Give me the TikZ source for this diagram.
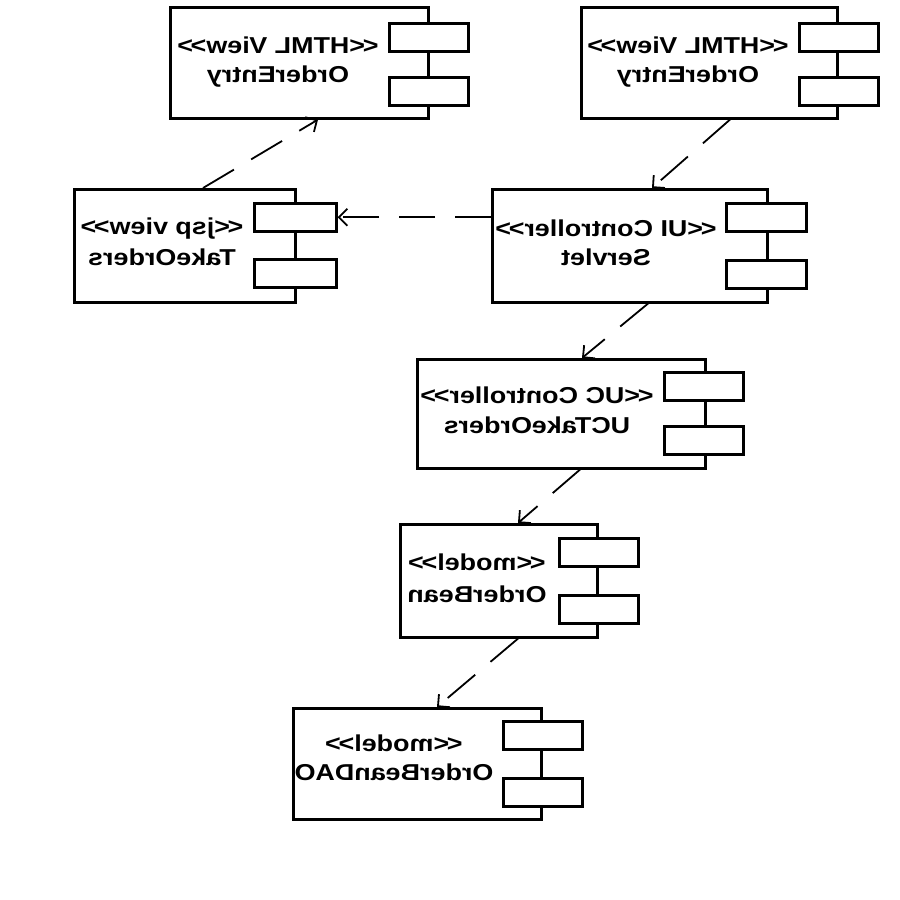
\documentclass[tikz,border=0pt]{standalone}
\usepackage{fontspec}
\setmainfont{Liberation Sans}
\usepackage{graphicx}
\usetikzlibrary{arrows.meta}

% Mirrored label line (reflected and slightly widened)
\newcommand{\mirtxt}[1]{\scalebox{-1.17}[1]{#1}}
% Stereotype brackets kept as two plain, closely set angle characters
\newcommand{\stopen}{<\kern-2pt<}
\newcommand{\stclose}{>\kern-2pt>}

\tikzset{
  compbox/.style={draw, line width=2.6pt, fill=white, inner sep=0pt, anchor=north west},
  portbox/.style={draw, line width=2.6pt, fill=white, inner sep=0pt, anchor=north west,
                  minimum width=79pt, minimum height=28pt},
  lbl/.style={inner sep=0pt, anchor=base, font=\fontsize{23}{27}\selectfont\bfseries},
  dep/.style={line width=1.8pt, dash pattern=on 36pt off 20pt,
              -{Straight Barb[length=8.5pt, width=17pt, line width=1.8pt]}},
}

\begin{document}
\begin{tikzpicture}[x=1pt, y=-1pt]
\useasboundingbox[fill=white] (0,0) rectangle (900,900);

% ---- component boxes (main body, then two ports) ----
% HTML View OrderEntry (left)
\node[compbox, minimum width=258pt, minimum height=111pt] (b1) at (169,6) {};
\node[portbox] (b1a) at (388,22) {};
\node[portbox] (b1b) at (388,76) {};
\node[lbl] (t1a) at (278,53) {\mirtxt{\stopen HTML View\stclose}};
\node[lbl] (t1b) at (278,82) {\mirtxt{OrderEntry}};

% HTML View OrderEntry (right)
\node[compbox, minimum width=256pt, minimum height=111pt] (b2) at (580,6) {};
\node[portbox] (b2a) at (798,22) {};
\node[portbox] (b2b) at (798,76) {};
\node[lbl] (t2a) at (688,53) {\mirtxt{\stopen HTML View\stclose}};
\node[lbl] (t2b) at (688,82) {\mirtxt{OrderEntry}};

% jsp view TakeOrders
\node[compbox, minimum width=221pt, minimum height=113pt] (b3) at (73,188) {};
\node[portbox, minimum width=82pt] (b3a) at (253,202) {};
\node[portbox, minimum width=82pt] (b3b) at (253,258) {};
\node[lbl] (t3a) at (162,234) {\mirtxt{\stopen jsp view\stclose}};
\node[lbl] (t3b) at (162,265) {\mirtxt{TakeOrders}};

% UI Controller Servlet
\node[compbox, minimum width=275pt, minimum height=113pt] (b4) at (491,188) {};
\node[portbox, minimum width=80pt] (b4a) at (725,202) {};
\node[portbox, minimum width=80pt] (b4b) at (725,259) {};
\node[lbl] (t4a) at (606,236) {\mirtxt{\stopen UI Controller\stclose}};
\node[lbl] (t4b) at (606,265) {\mirtxt{Servlet}};

% UC Controller UCTakeOrders
\node[compbox, minimum width=288pt, minimum height=109pt] (b5) at (416,358) {};
\node[portbox] (b5a) at (663,371) {};
\node[portbox] (b5b) at (663,425) {};
\node[lbl] (t5a) at (537,403) {\mirtxt{\stopen UC Controller\stclose}};
\node[lbl] (t5b) at (537,433) {\mirtxt{UCTakeOrders}};

% model OrderBean
\node[compbox, minimum width=197pt, minimum height=113pt] (b6) at (399,523) {};
\node[portbox] (b6a) at (558,537) {};
\node[portbox] (b6b) at (558,594) {};
\node[lbl] (t6a) at (477,570) {\mirtxt{\stopen model\stclose}};
\node[lbl] (t6b) at (477,602) {\mirtxt{OrderBean}};

% model OrderBeanDAO
\node[compbox, minimum width=248pt, minimum height=111pt] (b7) at (292,707) {};
\node[portbox] (b7a) at (502,720) {};
\node[portbox] (b7b) at (502,777) {};
\node[lbl] (t7a) at (394,751) {\mirtxt{\stopen model\stclose}};
\node[lbl] (t7b) at (394,780) {\mirtxt{OrderBeanDAO}};

% ---- dependencies ----
\draw[dep] ([xshift=130pt]b3.north west) -- ([xshift=149pt]b1.south west);
\draw[dep] ([xshift=150pt]b2.south west) -- ([xshift=161pt]b4.north west);
\draw[dep] (b4.west |- b3a.east) -- (b3a.east);
\draw[dep] ([xshift=157pt]b4.south west) -- ([xshift=166pt]b5.north west);
\draw[dep] ([xshift=164pt]b5.south west) -- ([xshift=119pt]b6.north west);
\draw[dep] ([xshift=119pt]b6.south west) -- ([xshift=145pt]b7.north west);
\end{tikzpicture}
\end{document}
